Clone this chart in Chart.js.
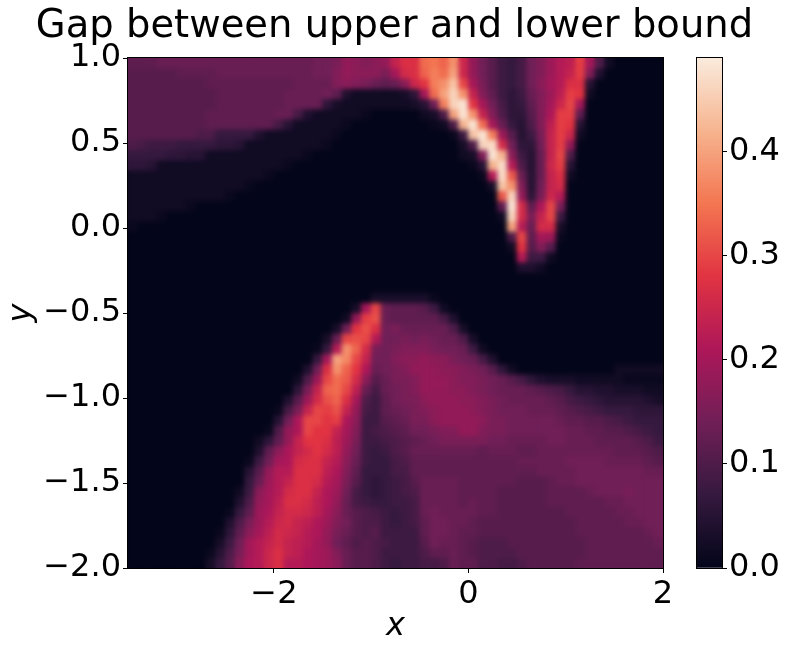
<!DOCTYPE html>
<html>
<head>
<meta charset="utf-8">
<title>Gap between upper and lower bound</title>
<script src="https://cdn.jsdelivr.net/npm/chart.js@4"></script>
<style>
    html, body { margin: 0; padding: 0; background: #fff; }
    #plot { position: absolute; left: 0; top: 0; }
    #bar { position: absolute; left: 664px; top: 0; }
</style>
</head>
<body>
<canvas id="plot" width="789" height="650"></canvas>
<canvas id="bar" width="125" height="650"></canvas>
<script>
// Cell centres along x (one column every 0.1)
const xCells = [
    -3.45, -3.35, -3.25, -3.15, -3.05, -2.95, -2.85, -2.75, -2.65, -2.55, -2.45,
    -2.35, -2.25, -2.15, -2.05, -1.95, -1.85, -1.75, -1.65, -1.55, -1.45, -1.35,
    -1.25, -1.15, -1.05, -0.95, -0.85, -0.75, -0.65, -0.55, -0.45, -0.35, -0.25,
    -0.15, -0.05, 0.05, 0.15, 0.25, 0.35, 0.45, 0.55, 0.65, 0.75, 0.85,
    0.95, 1.05, 1.15, 1.25, 1.35, 1.45, 1.55, 1.65, 1.75, 1.85, 1.95
];
// Cell centres along y, top row first (one row every 0.06)
const yCells = [
    0.97, 0.91, 0.85, 0.79, 0.73, 0.67, 0.61, 0.55, 0.49, 0.43,
    0.37, 0.31, 0.25, 0.19, 0.13, 0.07, 0.01, -0.05, -0.11, -0.17,
    -0.23, -0.29, -0.35, -0.41, -0.47, -0.53, -0.59, -0.65, -0.71, -0.77,
    -0.83, -0.89, -0.95, -1.01, -1.07, -1.13, -1.19, -1.25, -1.31, -1.37,
    -1.43, -1.49, -1.55, -1.61, -1.67, -1.73, -1.79, -1.85, -1.91, -1.97
];
// Gap per cell in hundredths, one line per row
const gap = [
[12,12,12,13,13, 13,13,13,13,13, 13,13,13,13,13, 13,13,13,13,14, 14,15,18,17,16, 17,18,24,27,27, 34,35,33,38,25, 18,14,11,8,7, 9,14,16,19,22, 23,29,20,10,2, 0,0,0,0,0],
[11,11,11,11,11, 12,12,12,12,13, 13,13,13,13,13, 13,13,13,13,14, 14,16,18,17,17, 17,15,20,26,27, 33,36,34,40,25, 18,14,11,8,7, 9,14,16,19,22, 24,29,16,4,0, 0,0,0,0,0],
[11,11,11,11,11, 11,11,11,12,12, 12,12,12,12,12, 12,12,13,13,13, 13,16,17,16,15, 13,12,13,17,25, 28,36,38,44,30, 20,15,11,8,7, 9,14,17,20,22, 27,27,5,0,0, 0,0,0,0,0],
[11,11,11,11,11, 11,11,11,11,12, 12,12,12,12,12, 12,13,13,13,13, 14,12,4,2,2, 2,2,2,3,6, 20,34,40,46,38, 24,16,12,8,6, 8,13,16,19,23, 29,28,2,0,0, 0,0,0,0,0],
[11,11,11,11,11, 11,11,11,11,12, 12,12,12,12,12, 12,13,13,13,13, 6,3,2,2,2, 2,2,2,2,3, 5,14,36,46,48, 28,20,14,9,6, 7,12,16,20,25, 30,20,0,0,0, 0,0,0,0,0],
[11,11,11,11,11, 11,11,11,12,12, 12,12,12,12,12, 13,13,9,4,2, 2,2,2,2,1, 0,0,0,0,0, 2,3,10,40,48, 38,24,16,10,6, 6,11,16,21,29, 29,12,0,0,0, 0,0,0,0,0],
[11,11,11,11,11, 11,11,11,12,12, 12,12,12,12,12, 9,5,2,2,2, 2,2,1,0,0, 0,0,0,0,0, 0,1,2,10,42, 48,34,20,13,7, 5,10,16,23,29, 28,5,0,0,0, 0,0,0,0,0],
[11,11,11,11,11, 11,11,10,10,7, 7,7,7,4,2, 2,2,2,2,2, 2,1,0,0,0, 0,0,0,0,0, 0,0,0,1,8, 44,48,36,19,11, 5,8,15,24,29, 25,2,0,0,0, 0,0,0,0,0],
[10,9,8,8,8, 7,7,7,7,6, 6,5,2,2,2, 2,2,2,2,2, 1,0,0,0,0, 0,0,0,0,0, 0,0,0,0,3, 10,46,47,26,14, 6,6,14,24,29, 18,0,0,0,0, 0,0,0,0,0],
[7,7,7,7,6, 6,5,5,2,2, 2,2,2,2,2, 2,2,2,1,0, 0,0,0,0,0, 0,0,0,0,0, 0,0,0,0,2, 3,16,48,42,17, 8,5,13,24,30, 10,0,0,0,0, 0,0,0,0,0],
[6,6,5,2,2, 2,2,2,2,2, 2,2,2,2,2, 2,1,0,0,0, 0,0,0,0,0, 0,0,0,0,0, 0,0,0,0,0, 1,5,42,47,22, 10,5,13,25,29, 5,0,0,0,0, 0,0,0,0,0],
[2,2,2,2,2, 2,2,2,2,2, 2,2,2,2,1, 0,0,0,0,0, 0,0,0,0,0, 0,0,0,0,0, 0,0,0,0,0, 0,1,22,47,32, 13,5,13,24,27, 2,0,0,0,0, 0,0,0,0,0],
[2,2,2,2,2, 2,2,2,2,2, 2,2,1,0,0, 0,0,0,0,0, 0,0,0,0,0, 0,0,0,0,0, 0,0,0,0,0, 0,0,3,44,38, 16,5,14,24,26, 0,0,0,0,0, 0,0,0,0,0],
[2,2,2,2,2, 2,2,2,2,2, 1,0,0,0,0, 0,0,0,0,0, 0,0,0,0,0, 0,0,0,0,0, 0,0,0,0,0, 0,0,0,32,46, 18,6,15,25,22, 0,0,0,0,0, 0,0,0,0,0],
[2,2,2,2,2, 2,1,0,0,0, 0,0,0,0,0, 0,0,0,0,0, 0,0,0,0,0, 0,0,0,0,0, 0,0,0,0,0, 0,0,0,12,48, 26,12,21,30,15, 0,0,0,0,0, 0,0,0,0,0],
[2,2,2,1,0, 0,0,0,0,0, 0,0,0,0,0, 0,0,0,0,0, 0,0,0,0,0, 0,0,0,0,0, 0,0,0,0,0, 0,0,0,2,46, 26,15,24,30,8, 0,0,0,0,0, 0,0,0,0,0],
[1,0,0,0,0, 0,0,0,0,0, 0,0,0,0,0, 0,0,0,0,0, 0,0,0,0,0, 0,0,0,0,0, 0,0,0,0,0, 0,0,0,0,40, 22,13,26,26,3, 0,0,0,0,0, 0,0,0,0,0],
[0,0,0,0,0, 0,0,0,0,0, 0,0,0,0,0, 0,0,0,0,0, 0,0,0,0,0, 0,0,0,0,0, 0,0,0,0,0, 0,0,0,0,10, 30,12,20,19,1, 0,0,0,0,0, 0,0,0,0,0],
[0,0,0,0,0, 0,0,0,0,0, 0,0,0,0,0, 0,0,0,0,0, 0,0,0,0,0, 0,0,0,0,0, 0,0,0,0,0, 0,0,0,0,2, 28,11,16,11,0, 0,0,0,0,0, 0,0,0,0,0],
[0,0,0,0,0, 0,0,0,0,0, 0,0,0,0,0, 0,0,0,0,0, 0,0,0,0,0, 0,0,0,0,0, 0,0,0,0,0, 0,0,0,0,0, 22,8,8,2,0, 0,0,0,0,0, 0,0,0,0,0],
[0,0,0,0,0, 0,0,0,0,0, 0,0,0,0,0, 0,0,0,0,0, 0,0,0,0,0, 0,0,0,0,0, 0,0,0,0,0, 0,0,0,0,0, 4,4,2,0,0, 0,0,0,0,0, 0,0,0,0,0],
[0,0,0,0,0, 0,0,0,0,0, 0,0,0,0,0, 0,0,0,0,0, 0,0,0,0,0, 0,0,0,0,0, 0,0,0,0,0, 0,0,0,0,0, 0,0,0,0,0, 0,0,0,0,0, 0,0,0,0,0],
[0,0,0,0,0, 0,0,0,0,0, 0,0,0,0,0, 0,0,0,0,0, 0,0,0,0,0, 0,0,0,0,0, 0,0,0,0,0, 0,0,0,0,0, 0,0,0,0,0, 0,0,0,0,0, 0,0,0,0,0],
[0,0,0,0,0, 0,0,0,0,0, 0,0,0,0,0, 0,0,0,0,0, 0,0,0,0,0, 3,3,3,3,3, 3,1,0,0,0, 0,0,0,0,0, 0,0,0,0,0, 0,0,0,0,0, 0,0,0,0,0],
[0,0,0,0,0, 0,0,0,0,0, 0,0,0,0,0, 0,0,0,0,0, 0,0,0,3,20, 30,13,12,12,12, 11,8,2,0,0, 0,0,0,0,0, 0,0,0,0,0, 0,0,0,0,0, 0,0,0,0,0],
[0,0,0,0,0, 0,0,0,0,0, 0,0,0,0,0, 0,0,0,0,0, 0,0,2,18,29, 31,13,12,12,12, 12,12,9,4,0, 0,0,0,0,0, 0,0,0,0,0, 0,0,0,0,0, 0,0,0,0,0],
[0,0,0,0,0, 0,0,0,0,0, 0,0,0,0,0, 0,0,0,0,0, 0,3,14,28,31, 27,14,15,13,13, 13,13,13,10,3, 0,0,0,0,0, 0,0,0,0,0, 0,0,0,0,0, 0,0,0,0,0],
[0,0,0,0,0, 0,0,0,0,0, 0,0,0,0,0, 0,0,0,0,0, 3,13,30,31,30, 22,14,14,15,14, 15,14,13,13,10, 3,0,0,0,0, 0,0,0,0,0, 0,0,0,0,0, 0,0,0,0,0],
[0,0,0,0,0, 0,0,0,0,0, 0,0,0,0,0, 0,0,0,0,1, 7,22,38,33,26, 15,14,15,16,16, 16,15,14,14,13, 8,2,0,0,0, 0,0,0,0,0, 0,0,0,0,0, 0,0,0,0,0],
[0,0,0,0,0, 0,0,0,0,0, 0,0,0,0,0, 0,0,0,0,7, 20,40,37,30,24, 14,14,16,17,17, 18,17,17,15,14, 13,9,4,0,0, 0,0,0,0,0, 0,0,0,0,0, 0,0,0,0,0],
[0,0,0,0,0, 0,0,0,0,0, 0,0,0,0,0, 0,0,0,4,14, 27,38,33,28,21, 13,14,15,16,18, 18,18,17,17,16, 15,14,11,6,2, 0,0,0,0,0, 0,0,0,0,0, 2,2,2,2,2],
[0,0,0,0,0, 0,0,0,0,0, 0,0,0,0,0, 0,0,2,10,19, 30,34,32,26,17, 11,13,15,15,16, 18,18,18,17,16, 16,15,14,13,11, 9,6,4,3,3, 3,2,2,2,2, 2,1,1,1,1],
[0,0,0,0,0, 0,0,0,0,0, 0,0,0,0,0, 0,0,6,15,24, 33,34,30,23,13, 9,13,14,15,16, 18,18,18,17,17, 16,15,14,13,13, 13,12,11,10,9, 7,5,5,4,4, 3,3,3,2,2],
[0,0,0,0,0, 0,0,0,0,0, 0,0,0,0,0, 0,4,11,19,26, 31,33,27,20,10, 8,12,14,15,15, 17,18,18,18,17, 17,16,15,14,13, 13,13,13,12,11, 9,8,7,6,5, 5,5,5,4,3],
[0,0,0,0,0, 0,0,0,0,0, 0,0,0,0,0, 1,9,15,24,30, 29,31,24,18,9, 8,12,13,14,15, 16,17,18,18,18, 17,16,15,14,14, 14,13,13,13,12, 11,10,9,8,7, 7,7,6,6,6],
[0,0,0,0,0, 0,0,0,0,0, 0,0,0,0,0, 5,14,21,30,30, 28,29,21,17,8, 8,11,12,13,15, 15,17,18,18,18, 18,17,15,15,14, 14,14,14,14,13, 12,12,11,11,10, 9,8,7,7,7],
[0,0,0,0,0, 0,0,0,0,0, 0,0,0,0,1, 10,18,21,30,28, 28,24,20,16,8, 9,10,11,12,14, 14,15,16,16,18, 18,16,15,15,14, 14,14,14,14,14, 13,13,12,12,11, 11,10,9,8,7],
[0,0,0,0,0, 0,0,0,0,0, 0,0,0,2,6, 12,18,24,28,28, 27,23,19,15,8, 8,9,10,11,12, 13,14,15,15,15, 15,15,14,14,13, 13,13,13,14,14, 13,13,13,12,12, 12,12,11,10,8],
[0,0,0,0,0, 0,0,0,0,0, 0,0,0,4,12, 17,21,24,26,28, 26,23,18,14,8, 7,8,10,11,13, 13,13,13,13,13, 13,12,13,13,13, 12,12,13,13,13, 13,13,13,13,13, 12,12,12,11,10],
[0,0,0,0,0, 0,0,0,0,0, 0,0,1,8,14, 20,21,26,27,27, 24,22,17,13,8, 7,7,9,10,12, 12,12,12,12,12, 12,12,12,12,12, 13,13,13,13,13, 14,14,14,14,13, 13,13,13,12,11],
[0,0,0,0,0, 0,0,0,0,0, 0,0,5,11,18, 22,22,27,27,27, 23,21,16,12,7, 7,7,9,9,12, 12,12,12,12,12, 12,12,12,12,12, 12,12,13,13,13, 13,14,14,14,14, 14,14,14,13,13],
[0,0,0,0,0, 0,0,0,0,0, 0,0,7,13,19, 22,24,27,27,26, 22,20,15,11,7, 6,7,8,9,11, 13,13,13,13,12, 12,12,12,12,12, 11,11,11,12,13, 13,14,14,14,14, 14,14,14,14,14],
[0,0,0,0,0, 0,0,0,0,0, 0,2,8,17,20, 22,26,27,27,24, 21,19,14,9,7, 6,7,8,9,10, 13,13,13,13,12, 12,12,12,11,11, 11,11,11,12,12, 12,12,13,14,14, 14,15,14,14,14],
[0,0,0,0,0, 0,0,0,0,0, 0,4,10,18,20, 23,27,27,26,23, 21,18,13,9,8, 7,7,8,8,9, 13,13,13,13,12, 13,12,12,11,11, 11,11,11,12,12, 12,12,12,12,13, 13,14,14,14,14],
[0,0,0,0,0, 0,0,0,0,0, 1,7,12,19,21, 24,26,26,25,23, 20,17,13,11,10, 9,8,7,8,9, 13,14,13,13,13, 13,12,12,11,11, 11,11,11,11,11, 12,12,12,12,12, 13,13,14,14,14],
[0,0,0,0,0, 0,0,0,0,0, 4,10,15,19,22, 25,26,24,23,21, 19,16,14,11,10, 10,8,7,8,9, 12,14,14,13,13, 12,11,11,11,11, 11,11,11,11,11, 11,12,12,12,12, 12,13,13,14,14],
[0,0,0,0,0, 0,0,0,0,1, 6,12,17,20,23, 26,25,24,22,21, 18,15,13,11,10, 11,8,8,8,8, 12,14,14,13,12, 12,11,11,11,11, 11,11,11,11,11, 11,12,12,12,12, 12,12,12,13,14],
[0,0,0,0,0, 0,0,0,0,3, 8,14,20,22,24, 26,24,23,22,20, 18,14,12,10,11, 10,9,8,8,8, 11,14,13,13,12, 11,10,10,10,11, 11,11,11,11,11, 11,11,12,12,12, 12,12,12,12,13],
[0,0,0,0,0, 0,0,0,1,5, 10,15,20,22,25, 27,24,23,21,20, 19,16,13,11,11, 10,8,8,8,8, 10,12,12,13,12, 11,10,10,10,10, 11,11,11,11,11, 11,11,12,12,12, 12,12,12,12,12],
[0,0,0,0,0, 0,0,0,3,7, 11,17,21,22,25, 27,22,22,21,20, 19,17,13,11,11, 10,8,7,8,8, 9,9,10,13,12, 12,10,10,9,9, 10,11,11,11,11, 11,12,12,12,12, 12,12,12,12,12]
];
const xTicks = [-2, 0, 2];
const yTicks = [-2, -1.5, -1, -0.5, 0, 0.5, 1];
const barTicks = [0, 0.1, 0.2, 0.3, 0.4];
const barMax = 0.49;
// Evenly spaced stops of the colour map
const rocket = ['#03051a', '#35193e', '#701f57', '#ad1759', '#e13342', '#f37651', '#f6b48f', '#faebdd'];

const tickFont = { family: 'DejaVu Sans', size: 32 };

function hexToRgb(hex) {
    return [1, 3, 5].map(i => parseInt(hex.slice(i, i + 2), 16));
}

// Colour for a gap value
function cellColor(value) {
    const t = Math.min(value / barMax, 1) * (rocket.length - 1);
    const i = Math.min(Math.floor(t), rocket.length - 2);
    const a = hexToRgb(rocket[i]);
    const b = hexToRgb(rocket[i + 1]);
    const c = a.map((v, k) => Math.round(v + (b[k] - v) * (t - i)));
    return `rgb(${c[0]}, ${c[1]}, ${c[2]})`;
}

function minusSign(text) {
    return String(text).replace('-', '\u2212');
}

// Soften the cell edges, the reference is sampled much finer than this grid
const smoothPlugin = {
    id: 'smooth',
    afterDatasetsDraw(chart) {
        const a = chart.chartArea;
        const w = a.right - a.left;
        const h = a.bottom - a.top;
        const ctx = chart.ctx;
        ctx.save();
        ctx.beginPath();
        ctx.rect(a.left, a.top, w, h);
        ctx.clip();
        ctx.filter = 'blur(2.5px)';
        ctx.drawImage(chart.canvas, a.left, a.top, w, h, a.left, a.top, w, h);
        ctx.restore();
    }
};

// Frame round the plot area
const framePlugin = {
    id: 'frame',
    afterDatasetsDraw(chart) {
        const a = chart.chartArea;
        const ctx = chart.ctx;
        ctx.save();
        ctx.strokeStyle = '#000';
        ctx.lineWidth = 1;
        ctx.strokeRect(a.left - 0.5, a.top - 0.5, a.right - a.left + 1, a.bottom - a.top + 1);
        ctx.restore();
    }
};

// One dataset per row, each cell a floating bar
const rowDatasets = yCells.map((y, j) => ({
    data: xCells.map(x => ({ x: x, y: [y - 0.03, y + 0.03] })),
    backgroundColor: gap[j].map(v => cellColor(v / 100)),
    borderWidth: 0,
    grouped: false,
    barPercentage: 1,
    categoryPercentage: 1
}));

new Chart(document.getElementById('plot'), {
    type: 'bar',
    data: { datasets: rowDatasets },
    options: {
        responsive: false,
        animation: false,
        plugins: {
            legend: { display: false },
            tooltip: { enabled: false },
            title: {
                display: true,
                text: 'Gap between upper and lower bound',
                color: '#000',
                font: { family: 'DejaVu Sans', size: 38.5, weight: 'normal', lineHeight: 1 },
                padding: { top: 8, bottom: 11.5 }
            }
        },
        scales: {
            x: {
                type: 'linear',
                min: -3.5,
                max: 2,
                offset: false,
                afterBuildTicks: scale => { scale.ticks = xTicks.map(v => ({ value: v })); },
                afterFit: scale => { scale.height = 82; },
                grid: { offset: false, drawOnChartArea: false, tickLength: 5, color: '#000' },
                border: { color: '#000' },
                ticks: { font: tickFont, color: '#000', padding: 2, maxRotation: 0, callback: v => minusSign(v) },
                title: {
                    display: true,
                    text: 'x',
                    color: '#000',
                    font: { family: 'DejaVu Sans', size: 32, style: 'italic' },
                    padding: { top: 0, bottom: 4 }
                }
            },
            y: {
                type: 'linear',
                min: -2,
                max: 1,
                afterBuildTicks: scale => { scale.ticks = yTicks.map(v => ({ value: v })); },
                afterFit: scale => { scale.width = 128; },
                grid: { drawOnChartArea: false, tickLength: 5, color: '#000' },
                border: { color: '#000' },
                ticks: { font: tickFont, color: '#000', padding: 2, callback: v => minusSign(v.toFixed(1)) },
                title: {
                    display: true,
                    text: 'y',
                    color: '#000',
                    font: { family: 'DejaVu Sans', size: 32, style: 'italic' },
                    padding: { top: 2, bottom: 0 }
                }
            },
            // Empty axis, only keeps the room for the colour bar
            room: {
                type: 'linear',
                position: 'right',
                afterFit: scale => { scale.width = 126; },
                grid: { display: false },
                border: { display: false },
                ticks: { display: false }
            }
        }
    },
    plugins: [smoothPlugin, framePlugin]
});

// Colour bar: one tall bar with the map as its gradient
function barGradient(context) {
    const area = context.chart.chartArea;
    if (!area) return rocket[0];
    const g = context.chart.ctx.createLinearGradient(0, area.bottom, 0, area.top);
    rocket.forEach((c, i) => g.addColorStop(i / (rocket.length - 1), c));
    return g;
}

new Chart(document.getElementById('bar'), {
    type: 'bar',
    data: {
        labels: [''],
        datasets: [{
            data: [[0, barMax]],
            backgroundColor: barGradient,
            borderWidth: 0,
            barPercentage: 1,
            categoryPercentage: 1
        }]
    },
    options: {
        responsive: false,
        animation: false,
        layout: { padding: { left: 33, top: 58, bottom: 82 } },
        plugins: { legend: { display: false }, tooltip: { enabled: false } },
        scales: {
            x: { display: false },
            y: {
                position: 'right',
                min: 0,
                max: barMax,
                afterBuildTicks: scale => { scale.ticks = barTicks.map(v => ({ value: v })); },
                afterFit: scale => { scale.width = 67; },
                grid: { drawOnChartArea: false, tickLength: 5, color: '#000' },
                border: { color: '#000' },
                ticks: { font: tickFont, color: '#000', padding: 2, callback: v => v.toFixed(1) }
            }
        }
    },
    plugins: [framePlugin]
});
</script>
</body>
</html>
